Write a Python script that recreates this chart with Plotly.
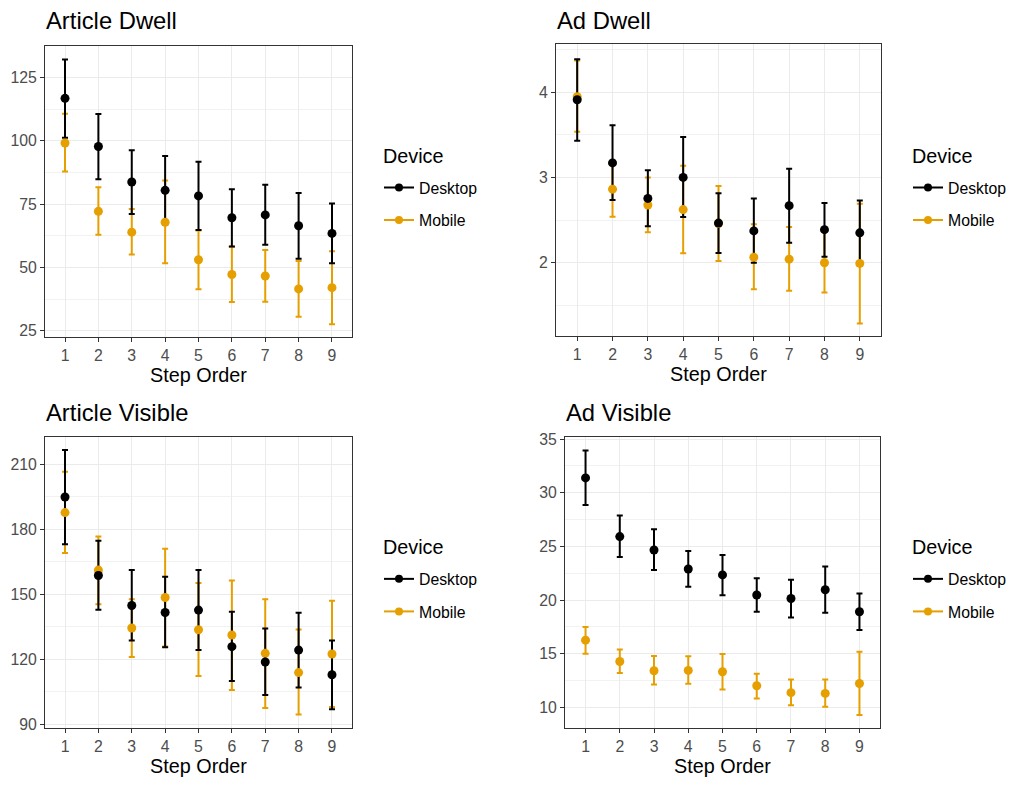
import plotly.graph_objects as go

steps = [1, 2, 3, 4, 5, 6, 7, 8, 9]
step_labels = ["1", "2", "3", "4", "5", "6", "7", "8", "9"]
devices = ["Desktop", "Mobile"]

# Article Dwell
adw_desk_mean = [116.8, 97.8, 83.8, 80.5, 78.3, 69.7, 70.8, 66.5, 63.5]
adw_desk_hi = [132.1, 110.6, 96.3, 94.1, 91.8, 80.9, 82.7, 79.5, 75.3]
adw_desk_lo = [101.3, 84.9, 71.2, 66.8, 64.8, 58.3, 59.0, 53.5, 51.7]
adw_mob_mean = [99.2, 72.2, 64.0, 67.9, 53.1, 47.3, 46.7, 41.6, 42.1]
adw_mob_hi = [110.7, 81.7, 73.1, 84.4, 64.7, 58.2, 57.0, 52.6, 56.5]
adw_mob_lo = [87.9, 63.0, 55.2, 51.7, 41.5, 36.4, 36.5, 30.6, 27.6]

# Ad Dwell
addw_desk_mean = [3.91, 3.17, 2.754, 3.0, 2.465, 2.373, 2.669, 2.388, 2.35]
addw_desk_hi = [4.385, 3.61, 3.085, 3.473, 2.815, 2.754, 3.1, 2.7, 2.73]
addw_desk_lo = [3.43, 2.735, 2.427, 2.535, 2.115, 2.0, 2.235, 2.069, 1.969]
addw_mob_mean = [3.946, 2.862, 2.677, 2.623, 2.46, 2.065, 2.042, 2.0, 1.992]
addw_mob_hi = [4.37, 3.186, 3.0, 3.138, 2.9, 2.45, 2.419, 2.362, 2.692]
addw_mob_lo = [3.535, 2.538, 2.358, 2.112, 2.02, 1.688, 1.673, 1.65, 1.288]

# Article Visible
av_desk_mean = [195.0, 158.7, 144.8, 141.6, 142.7, 125.8, 118.7, 124.2, 112.8]
av_desk_hi = [216.7, 174.8, 161.2, 158.1, 161.2, 141.9, 134.2, 141.5, 128.7]
av_desk_lo = [173.2, 142.9, 128.6, 125.5, 124.2, 109.9, 103.4, 106.9, 96.8]
av_mob_mean = [187.8, 161.2, 134.4, 148.5, 133.6, 131.2, 122.7, 113.8, 122.4]
av_mob_hi = [206.7, 176.7, 147.7, 171.1, 155.2, 156.4, 147.7, 133.7, 147.0]
av_mob_lo = [169.1, 145.4, 121.0, 125.9, 112.2, 105.8, 97.4, 94.4, 97.9]

# Ad Visible
avis_desk_mean = [31.39, 25.92, 24.67, 22.9, 22.35, 20.48, 20.15, 20.97, 18.92]
avis_desk_hi = [33.93, 27.88, 26.6, 24.58, 24.21, 22.04, 21.89, 23.14, 20.61]
avis_desk_lo = [28.86, 24.03, 22.81, 21.25, 20.45, 18.92, 18.37, 18.83, 17.21]
avis_mob_mean = [16.27, 14.28, 13.42, 13.45, 13.33, 12.02, 11.38, 11.31, 12.23]
avis_mob_hi = [17.49, 15.41, 14.8, 14.77, 14.98, 13.15, 12.6, 12.6, 15.2]
avis_mob_lo = [15.0, 13.21, 12.14, 12.2, 11.68, 10.83, 10.21, 10.06, 9.3]

titles = ["Article Dwell", "Ad Dwell", "Article Visible", "Ad Visible"]
y_ticks = [[25, 50, 75, 100, 125], [2, 3, 4], [90, 120, 150, 180, 210], [10, 15, 20, 25, 30, 35]]
y_minor = [12.5, 0.5, 15, 2.5]
y_ranges = [[22.5, 137.3], [1.138, 4.558], [88.3, 222.8], [8.11, 35.21]]

panel_data = [
    [(adw_desk_mean, adw_desk_hi, adw_desk_lo), (adw_mob_mean, adw_mob_hi, adw_mob_lo)],
    [(addw_desk_mean, addw_desk_hi, addw_desk_lo), (addw_mob_mean, addw_mob_hi, addw_mob_lo)],
    [(av_desk_mean, av_desk_hi, av_desk_lo), (av_mob_mean, av_mob_hi, av_mob_lo)],
    [(avis_desk_mean, avis_desk_hi, avis_desk_lo), (avis_mob_mean, avis_mob_hi, avis_mob_lo)],
]

colors = {"Desktop": "#000000", "Mobile": "#E69F00"}

W, H = 1018, 785
# plot areas in pixels: (left, right, top, bottom)
areas = [(45, 352, 41, 336), (556, 881, 39, 335), (45, 352, 437, 732), (565, 880, 437, 732)]
title_pos = [(44, 15), (555, 15), (44, 412), (564, 412)]
legtitle_pos = [(381, 152), (910, 152), (381, 549), (910, 549)]
legend_pos = [(379, 167), (908, 167), (379, 564), (908, 564)]

FONT = "Liberation Sans, Arial, Helvetica, sans-serif"
TICK = 15.8
AXT = 19.8

fig = go.Figure()
layout = dict(
    width=W, height=H, autosize=False,
    margin=dict(l=0, r=0, t=0, b=0, pad=0),
    paper_bgcolor="white", plot_bgcolor="white",
    font=dict(family=FONT, color="#000000"),
    annotations=[],
)

for i in range(4):
    ax = "" if i == 0 else str(i + 1)
    xref, yref = "x" + ax, "y" + ax
    lg = "legend" if i == 0 else "legend" + str(i + 1)
    l, r, t, b = areas[i]

    order = [("Mobile", 1), ("Desktop", 0)]
    # error bars first (mobile, desktop), then points
    for name, k in order:
        mean, hi, lo = panel_data[i][k]
        fig.add_trace(go.Scatter(
            x=steps, y=mean, mode="markers", xaxis=xref, yaxis=yref,
            marker=dict(size=1, opacity=0, color=colors[name]),
            error_y=dict(type="data", symmetric=False,
                         array=[h - m for h, m in zip(hi, mean)],
                         arrayminus=[m - lo_ for m, lo_ in zip(mean, lo)],
                         color=colors[name], thickness=2, width=3),
            showlegend=False, hoverinfo="skip"))
    for name, k in order:
        mean, hi, lo = panel_data[i][k]
        fig.add_trace(go.Scatter(
            x=steps, y=mean, mode="markers", xaxis=xref, yaxis=yref,
            marker=dict(size=9, color=colors[name]),
            name=name, showlegend=False))
    for name in devices:
        fig.add_trace(go.Scatter(
            x=[None], y=[None], mode="lines+markers", xaxis=xref, yaxis=yref,
            line=dict(color=colors[name], width=2), marker=dict(size=8, color=colors[name]),
            name=name, legend=lg, legendgroup=f"{i}-{name}", showlegend=True))

    layout["xaxis" + ax] = dict(
        domain=[l / W, r / W], anchor=yref, range=[0.4, 9.6],
        tickmode="array", tickvals=steps, ticktext=step_labels,
        showgrid=True, gridcolor="#EBEBEB", gridwidth=1.1, zeroline=False,
        showline=True, mirror=True, linecolor="#333333", linewidth=1.1,
        ticks="outside", ticklen=4, tickcolor="#333333", tickwidth=1.1,
        tickfont=dict(size=TICK, color="#4D4D4D", family=FONT),
        title=dict(text="Step Order", font=dict(size=AXT, color="#000000", family=FONT), standoff=1),
        fixedrange=True,
    )
    layout["yaxis" + ax] = dict(
        domain=[1 - b / H, 1 - t / H], anchor=xref, range=y_ranges[i],
        tickmode="array", tickvals=y_ticks[i], ticktext=[str(v) for v in y_ticks[i]],
        showgrid=True, gridcolor="#EBEBEB", gridwidth=1.1, zeroline=False,
        showline=True, mirror=True, linecolor="#333333", linewidth=1.1,
        ticks="outside", ticklen=4, tickcolor="#333333", tickwidth=1.1,
        tickfont=dict(size=TICK, color="#4D4D4D", family=FONT),
        minor=dict(dtick=y_minor[i], tick0=0, showgrid=True, gridcolor="#F2F2F2", gridwidth=0.6, ticklen=0),
        fixedrange=True,
    )
    lx, ly = legend_pos[i]
    layout[lg] = dict(
        x=lx / W, y=1 - ly / H, xanchor="left", yanchor="top",
        bgcolor="rgba(0,0,0,0)", borderwidth=0,
        font=dict(size=TICK, color="#000000", family=FONT),
        tracegroupgap=9, itemclick=False, itemdoubleclick=False,
    )
    tx, ty = title_pos[i]
    layout["annotations"].append(dict(
        text=titles[i], x=tx / W, y=1 - ty / H, xref="paper", yref="paper",
        xanchor="left", yanchor="middle", showarrow=False,
        font=dict(size=23.8, color="#000000", family=FONT)))
    gx, gy = legtitle_pos[i]
    layout["annotations"].append(dict(
        text="Device", x=gx / W, y=1 - gy / H, xref="paper", yref="paper",
        xanchor="left", yanchor="middle", showarrow=False,
        font=dict(size=AXT, color="#000000", family=FONT)))

fig.update_layout(**layout)

post = """
var de = document.documentElement, bd = document.body;
de.style.margin = '0'; de.style.padding = '0'; de.style.overflow = 'hidden';
bd.style.margin = '0'; bd.style.padding = '0'; bd.style.overflow = 'hidden';
var g = document.querySelector('.plotly-graph-div');
if (g) { g.style.position = 'fixed'; g.style.left = '0px'; g.style.top = '0px'; }
"""
fig.write_html("out.html", config={"displayModeBar": False, "responsive": False}, post_script=post)
